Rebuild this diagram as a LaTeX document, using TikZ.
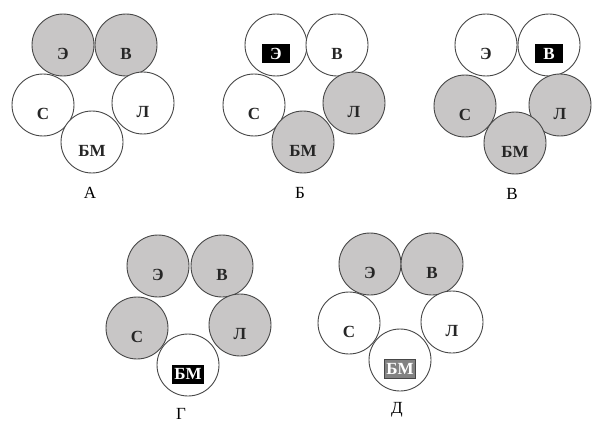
\documentclass[tikz,border=0pt]{standalone}
\usepackage{fontspec}
\setmainfont{Liberation Serif}
\usepackage{xcolor}
\definecolor{ringGray}{RGB}{70, 70, 70}
\definecolor{busyGray}{RGB}{200, 198, 198}
\definecolor{tagGray}{RGB}{130, 130, 130}

\begin{document}
\begin{tikzpicture}[x=1pt, y=-1pt]
                    \tikzstyle{cell} = [circle, draw=ringGray, line width=0.9pt, fill=white, minimum size=62pt, inner sep=0pt]
                    \tikzstyle{busy} = [cell, fill=busyGray]
                    \tikzstyle{tag} = [font=\fontsize{17}{17}\selectfont\bfseries, text=black!85, yshift=-9pt, inner sep=1pt]
                    \tikzstyle{dark} = [tag, fill=black, text=white, minimum width=28pt, minimum height=19pt, inner xsep=2pt]
                    \tikzstyle{pale} = [tag, fill=tagGray, draw=ringGray, text=white, minimum height=19pt, inner xsep=2pt]
                    \tikzstyle{caption} = [font=\fontsize{17}{17}\selectfont]
                    \useasboundingbox (0,0) rectangle (592,428);
                    % A
                    \node[busy, label={[tag]center:Э}] (aE) at (63,45) {};
                    \node[busy, label={[tag]center:В}] (aV) at (126,45) {};
                    \node[cell, label={[tag]center:С}] (aS) at (43,105) {};
                    \node[cell, label={[tag]center:Л}] (aL) at (143,103) {};
                    \node[cell, label={[tag]center:БМ}] (aB) at (92,142) {};
                    \node[caption] (aN) at (90,193) {А};
                    % B
                    \node[cell, label={[dark]center:Э}] (bE) at (276,45) {};
                    \node[cell, label={[tag]center:В}] (bV) at (337,45) {};
                    \node[cell, label={[tag]center:С}] (bS) at (254,105) {};
                    \node[busy, label={[tag]center:Л}] (bL) at (354,103) {};
                    \node[busy, label={[tag]center:БМ}] (bB) at (303,142) {};
                    \node[caption] (bN) at (300,193) {Б};
                    % V
                    \node[cell, label={[tag]center:Э}] (cE) at (486,45) {};
                    \node[cell, label={[dark]center:В}] (cV) at (549,45) {};
                    \node[busy, label={[tag]center:С}] (cS) at (465,106) {};
                    \node[busy, label={[tag]center:Л}] (cL) at (560,105) {};
                    \node[busy, label={[tag]center:БМ}] (cB) at (515,143) {};
                    \node[caption] (cN) at (512,194) {В};
                    % G
                    \node[busy, label={[tag]center:Э}] (dE) at (158,266) {};
                    \node[busy, label={[tag]center:В}] (dV) at (222,266) {};
                    \node[busy, label={[tag]center:С}] (dS) at (137,328) {};
                    \node[busy, label={[tag]center:Л}] (dL) at (240,325) {};
                    \node[cell, label={[dark]center:БМ}] (dB) at (188,365) {};
                    \node[caption] (dN) at (181,414) {Г};
                    % D
                    \node[busy, label={[tag]center:Э}] (eE) at (370,264) {};
                    \node[busy, label={[tag]center:В}] (eV) at (432,264) {};
                    \node[cell, label={[tag]center:С}] (eS) at (349,323) {};
                    \node[cell, label={[tag]center:Л}] (eL) at (452,322) {};
                    \node[cell, label={[pale]center:БМ}] (eB) at (400,360) {};
                    \node[caption] (eN) at (397,410) {Д};
                \end{tikzpicture}
\end{document}
